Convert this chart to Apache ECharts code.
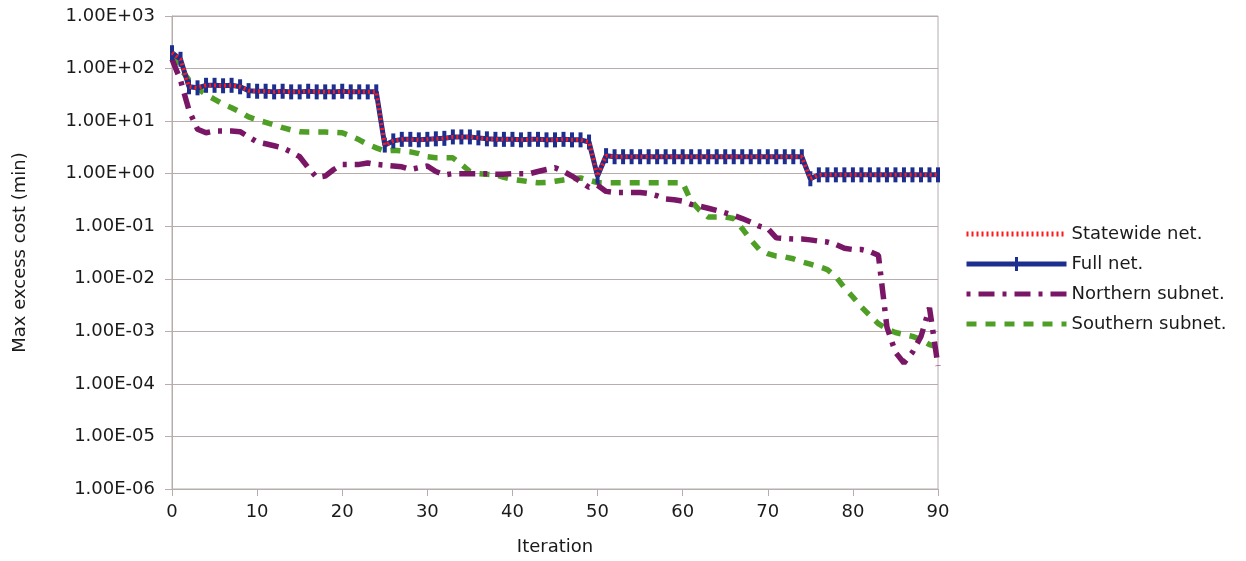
<!DOCTYPE html>
<html>
<head>
<meta charset="utf-8">
<script src="https://cdn.jsdelivr.net/npm/echarts@6/dist/echarts.min.js"></script>
<style>html,body{margin:0;padding:0;background:#fff}#c{width:1246px;height:561px}</style>
</head>
<body>
<div id="c"></div>
<script>
// Iterations 0..90
const iterations = Array.from({length: 91}, (_, i) => i);

const fullNet = [
  200, 150, 45, 43, 48, 48, 47, 48, 45, 38,
  37, 37, 36, 37, 36, 36, 37, 36, 36, 36,
  37, 36, 36, 36, 36, 3.5, 4.2, 4.5, 4.5, 4.4,
  4.5, 4.6, 4.7, 5.0, 5.0, 5.0, 4.8, 4.6, 4.5, 4.5,
  4.5, 4.4, 4.5, 4.5, 4.4, 4.4, 4.5, 4.4, 4.4, 4.0,
  0.9, 2.2, 2.1, 2.1, 2.1, 2.1, 2.1, 2.1, 2.1, 2.1,
  2.1, 2.1, 2.1, 2.1, 2.1, 2.1, 2.1, 2.1, 2.1, 2.1,
  2.1, 2.1, 2.1, 2.1, 2.1, 0.8, 0.95, 0.95, 0.95, 0.95,
  0.95, 0.95, 0.95, 0.95, 0.95, 0.95, 0.95, 0.95, 0.95, 0.95,
  0.95
];

const statewideNet = fullNet.slice();

const northernSubnet = [
  150, 60, 16, 7, 6, 6.5, 6.5, 6.5, 6.3, 5,
  4, 3.7, 3.4, 3.1, 2.6, 2.1, 1.3, 0.85, 0.9, 1.2,
  1.5, 1.5, 1.5, 1.6, 1.5, 1.45, 1.4, 1.35, 1.2, 1.3,
  1.4, 1.1, 0.95, 1.0, 1.0, 1.0, 1.0, 1.0, 0.98, 0.98,
  1.0, 1.0, 1.0, 1.1, 1.2, 1.3, 1.1, 0.9, 0.7, 0.55,
  0.6, 0.46, 0.44, 0.44, 0.44, 0.44, 0.42, 0.38, 0.33, 0.32,
  0.3, 0.26, 0.24, 0.22, 0.2, 0.18, 0.16, 0.14, 0.12, 0.1,
  0.09, 0.06, 0.058, 0.057, 0.057, 0.055, 0.052, 0.05, 0.045, 0.038,
  0.036, 0.036, 0.033, 0.028, 0.0012, 0.0004, 0.00025, 0.0004, 0.0008, 0.0028,
  0.00022
];

const southernSubnet = [
  165, 100, 60, 42, 32, 26, 21, 18, 15, 12,
  10.5, 9.5, 8.5, 7.5, 6.8, 6.3, 6.2, 6.2, 6.2, 6.1,
  6, 5.2, 4.4, 3.6, 3.1, 2.7, 2.8, 2.7, 2.6, 2.4,
  2.1, 2.0, 2.0, 2.0, 1.5, 1.1, 1.0, 0.97, 0.95, 0.85,
  0.78, 0.74, 0.7, 0.67, 0.68, 0.72, 0.76, 0.8, 0.83, 0.75,
  0.68, 0.67, 0.67, 0.67, 0.67, 0.67, 0.67, 0.67, 0.67, 0.67,
  0.67, 0.3, 0.2, 0.15, 0.15, 0.15, 0.14, 0.09, 0.055, 0.036,
  0.03, 0.027, 0.026, 0.024, 0.021, 0.019, 0.017, 0.015, 0.011, 0.0068,
  0.0045, 0.0029, 0.002, 0.0014, 0.0011, 0.00095, 0.00087, 0.0008, 0.0007, 0.00056,
  0.0005
];

const seriesNames = ['Statewide net.', 'Full net.', 'Northern subnet.', 'Southern subnet.'];

function pairs(vals) { return iterations.map((x, i) => [x, vals[i]]); }

function expLabel(v) {
  const e = Math.round(Math.log10(v));
  const a = Math.abs(e);
  return '1.00E' + (e < 0 ? '-' : '+') + (a < 10 ? '0' : '') + a;
}

const FONT = 'DejaVu Sans';
const TXT = '#1a1a1a';
const gridColor = '#b8adad';
const RED = '#ff1a1a', BLUE = '#1c2f8e', PURPLE = '#7a1666', GREEN = '#4f9f26';
// legend glyph for "Full net.": thick line with a small vertical tick in the middle
const fullLegendIcon = 'path://M0,4.5 L100,4.5 L100,9.5 L0,9.5 Z M48.5,0 L51.5,0 L51.5,14 L48.5,14 Z';

const chart = echarts.init(document.getElementById('c'), null, {renderer: 'canvas'});
chart.setOption({
  backgroundColor: '#ffffff',
  animation: false,
  grid: {left: 172, right: 308, top: 16, bottom: 72, show: true, borderColor: gridColor, borderWidth: 1},
  xAxis: {
    type: 'value', min: 0, max: 90, interval: 10,
    name: 'Iteration', nameLocation: 'middle', nameGap: 49,
    nameTextStyle: {fontFamily: FONT, fontSize: 18, color: TXT},
    axisLine: {show: true, lineStyle: {color: gridColor}},
    axisTick: {show: true, length: 7, lineStyle: {color: gridColor}},
    axisLabel: {fontFamily: FONT, fontSize: 18, color: TXT, margin: 14},
    splitLine: {show: false}
  },
  yAxis: {
    type: 'log', logBase: 10, min: 1e-6, max: 1e3, interval: 1,
    name: 'Max excess cost (min)', nameLocation: 'middle', nameGap: 143,
    nameTextStyle: {fontFamily: FONT, fontSize: 18, color: TXT},
    axisLine: {show: true, lineStyle: {color: gridColor}},
    axisTick: {show: true, length: 7, lineStyle: {color: gridColor}},
    axisLabel: {fontFamily: FONT, fontSize: 18, color: TXT, margin: 17, formatter: expLabel},
    splitLine: {show: true, lineStyle: {color: gridColor, width: 1}}
  },
  legend: {
    orient: 'vertical', left: 959, top: 220,
    itemWidth: 100, itemHeight: 14, itemGap: 12,
    textStyle: {fontFamily: FONT, fontSize: 18, color: TXT},
    data: [
      {name: seriesNames[0], itemStyle: {opacity: 0}, lineStyle: {width: 5, type: [2, 3]}},
      {name: seriesNames[1], icon: fullLegendIcon, itemStyle: {color: BLUE}},
      {name: seriesNames[2], itemStyle: {opacity: 0}, lineStyle: {width: 5, type: [4, 8, 16, 8]}},
      {name: seriesNames[3], itemStyle: {opacity: 0}, lineStyle: {width: 5, type: [10, 9]}}
    ]
  },
  series: [
    {
      name: seriesNames[0], type: 'line', data: pairs(statewideNet), z: 5,
      symbol: 'none', lineStyle: {color: RED, width: 4, type: [2, 3]},
      itemStyle: {color: RED}
    },
    {
      name: seriesNames[1], type: 'line', data: pairs(fullNet), z: 4,
      symbol: 'rect', symbolSize: [4, 15], showSymbol: true,
      lineStyle: {color: BLUE, width: 5},
      itemStyle: {color: BLUE}
    },
    {
      name: seriesNames[2], type: 'line', data: pairs(northernSubnet), z: 3,
      symbol: 'none', lineStyle: {color: PURPLE, width: 5.5, type: [16, 8, 4, 8]},
      itemStyle: {color: PURPLE}
    },
    {
      name: seriesNames[3], type: 'line', data: pairs(southernSubnet), z: 2,
      symbol: 'none', lineStyle: {color: GREEN, width: 5.5, type: [10, 9]},
      itemStyle: {color: GREEN}
    }
  ]
});
</script>
</body>
</html>
